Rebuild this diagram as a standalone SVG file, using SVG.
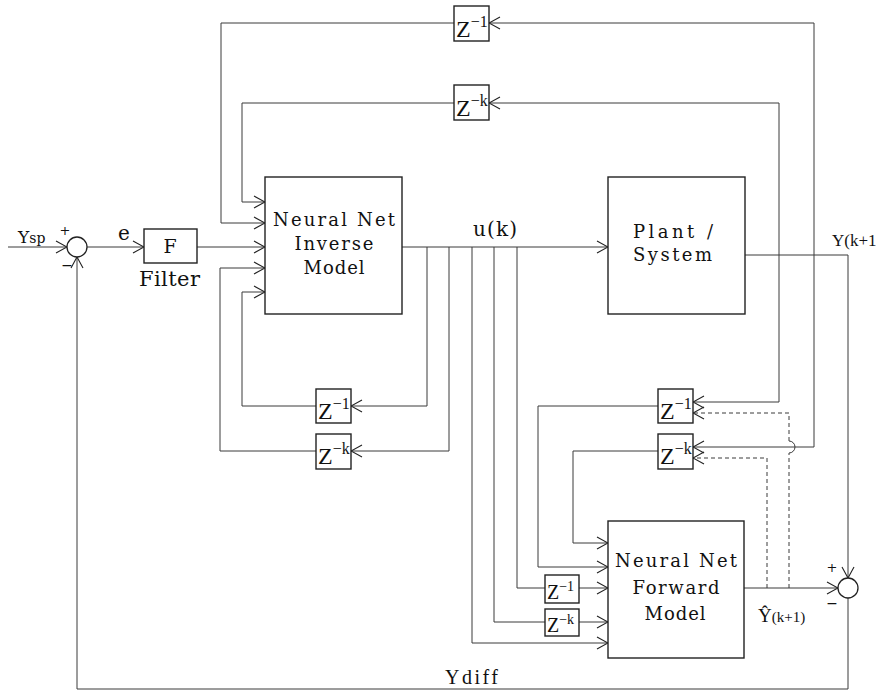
<svg xmlns="http://www.w3.org/2000/svg" width="881" height="693" viewBox="0 0 881 693">
<defs>
<marker id="ah" viewBox="-13 -7 14 14" refX="0" refY="0" markerWidth="14" markerHeight="14" orient="auto" markerUnits="userSpaceOnUse"><path d="M-11,-6 L0,0 L-11,6" fill="none" stroke="#222" stroke-width="1.1"/></marker>
</defs>
<style>
.box{fill:#fff;stroke:#222;stroke-width:1.4}
.sum{fill:#fff;stroke:#222;stroke-width:1.3}
.ln{fill:none;stroke:#3a3a3a;stroke-width:1}
.arr{marker-end:url(#ah)}
.dash{stroke-dasharray:4 3}
.t{font-family:"DejaVu Serif","Liberation Serif",serif;fill:#111}
.z{font-family:"Liberation Serif","DejaVu Serif",serif;fill:#111}
</style>
<rect width="881" height="693" fill="#fff"/>
<g id="connectors">
<path class="ln arr" d="M8,247 H67"/>
<path class="ln arr" d="M87,247 H144"/>
<path class="ln arr" d="M197,247 H265"/>
<path class="ln arr" d="M454,23 H221 V223 H265"/>
<path class="ln arr" d="M454,103 H242 V202 H265"/>
<path class="ln arr" d="M402,247 H608"/>
<path class="ln arr" d="M427,247 V406 H351"/>
<path class="ln arr" d="M316,406 H242 V292 H265"/>
<path class="ln arr" d="M449,247 V451 H351"/>
<path class="ln arr" d="M316,451 H220 V268 H265"/>
<path class="ln arr" d="M472,247 V643 H608"/>
<path class="ln" d="M494,247 V622 H545"/>
<path class="ln arr" d="M579,622 H608"/>
<path class="ln" d="M517,247 V588 H545"/>
<path class="ln arr" d="M579,588 H608"/>
<path class="ln arr" d="M658,406 H538 V567 H608"/>
<path class="ln arr" d="M658,451 H573 V543 H608"/>
<path class="ln" d="M745,255 H848"/>
<path class="ln arr" d="M814,255 V23 H489"/>
<path class="ln arr" d="M814,255 V447 H693"/>
<path class="ln arr" d="M779,255 V103 H489"/>
<path class="ln arr" d="M779,255 V402 H693"/>
<path class="ln arr" d="M848,255 V578"/>
<path class="ln arr" d="M744,588 H838"/>
<path class="ln dash arr" d="M767,588 V458 H693"/>
<path class="ln dash" d="M789,588 V453"/>
<path class="ln" d="M789,453 A6,6 0 0 0 789,441"/>
<path class="ln dash arr" d="M789,441 V413 H693"/>
<path class="ln arr" d="M848,598 V689 H77 V257"/>
</g>
<g id="input-label">
<text class="t" x="18" y="243" font-size="17">Y<tspan font-size="14">sp</tspan></text>
<text class="t" x="118" y="240" font-size="20">e</text>
</g>
<g id="sum-left">
<circle class="sum" cx="77" cy="247" r="10"/>
<text class="t" x="65" y="235" font-size="13" text-anchor="middle">+</text>
<text class="t" x="67" y="270" font-size="14" text-anchor="middle">−</text>
</g>
<g id="filter">
<rect class="box" x="144" y="229" width="53" height="34"/>
<text class="t" x="170" y="253" font-size="19" text-anchor="middle">F</text>
<text class="t" x="139" y="286" font-size="21" textLength="61" lengthAdjust="spacing">Filter</text>
</g>
<g id="inverse-model">
<rect class="box" x="265" y="177" width="137" height="137"/>
<text class="t" x="334" y="226" font-size="18" text-anchor="middle" textLength="122" lengthAdjust="spacing">Neural Net</text>
<text class="t" x="334" y="250" font-size="18" text-anchor="middle" textLength="79" lengthAdjust="spacing">Inverse</text>
<text class="t" x="334" y="274" font-size="18" text-anchor="middle" textLength="61" lengthAdjust="spacing">Model</text>
</g>
<g id="uk-label">
<text class="t" x="473" y="236" font-size="20" textLength="44" lengthAdjust="spacing">u(k)</text>
</g>
<g id="plant">
<rect class="box" x="608" y="177" width="137" height="137"/>
<text class="t" x="633" y="238" font-size="18" textLength="80" lengthAdjust="spacing">Plant /</text>
<text class="t" x="633" y="261" font-size="18" textLength="79" lengthAdjust="spacing">System</text>
</g>
<g id="y-label">
<text class="z" x="832" y="246" font-size="17">Y(k+1</text>
</g>
<g id="z1-top">
<rect class="box" x="454" y="6" width="35" height="35"/>
<text class="z" x="456" y="37" font-size="24">Z<tspan font-size="16" dy="-10">−1</tspan></text>
</g>
<g id="zk-top">
<rect class="box" x="454" y="85" width="35" height="35"/>
<text class="z" x="456" y="116" font-size="24">Z<tspan font-size="16" dy="-10">−k</tspan></text>
</g>
<g id="z1-inv">
<rect class="box" x="316" y="389" width="35" height="34"/>
<text class="z" x="318" y="419" font-size="24">Z<tspan font-size="16" dy="-10">−1</tspan></text>
</g>
<g id="zk-inv">
<rect class="box" x="316" y="434" width="35" height="35"/>
<text class="z" x="318" y="464" font-size="24">Z<tspan font-size="16" dy="-10">−k</tspan></text>
</g>
<g id="z1-fwd-out">
<rect class="box" x="658" y="389" width="35" height="34"/>
<text class="z" x="660" y="419" font-size="24">Z<tspan font-size="16" dy="-10">−1</tspan></text>
</g>
<g id="zk-fwd-out">
<rect class="box" x="658" y="434" width="35" height="35"/>
<text class="z" x="660" y="464" font-size="24">Z<tspan font-size="16" dy="-10">−k</tspan></text>
</g>
<g id="z1-fwd-in">
<rect class="box" x="545" y="575" width="34" height="28"/>
<text class="z" x="547" y="599" font-size="20">Z<tspan font-size="14" dy="-8">−1</tspan></text>
</g>
<g id="zk-fwd-in">
<rect class="box" x="545" y="609" width="34" height="27"/>
<text class="z" x="547" y="632" font-size="20">Z<tspan font-size="14" dy="-8">−k</tspan></text>
</g>
<g id="forward-model">
<rect class="box" x="608" y="521" width="136" height="137"/>
<text class="t" x="676" y="567" font-size="18" text-anchor="middle" textLength="122" lengthAdjust="spacing">Neural Net</text>
<text class="t" x="676" y="594" font-size="18" text-anchor="middle" textLength="87" lengthAdjust="spacing">Forward</text>
<text class="t" x="675" y="620" font-size="18" text-anchor="middle" textLength="61" lengthAdjust="spacing">Model</text>
</g>
<g id="yhat-label">
<text class="z" x="758" y="622" font-size="19">Ŷ<tspan font-size="15">(k+1)</tspan></text>
</g>
<g id="sum-right">
<circle class="sum" cx="848" cy="588" r="10"/>
<text class="t" x="832" y="572" font-size="13" text-anchor="middle">+</text>
<text class="t" x="832" y="608" font-size="14" text-anchor="middle">−</text>
</g>
<g id="ydiff-label">
<text class="z" x="445" y="684" font-size="20" textLength="53" lengthAdjust="spacing">Ydiff</text>
</g>
</svg>
